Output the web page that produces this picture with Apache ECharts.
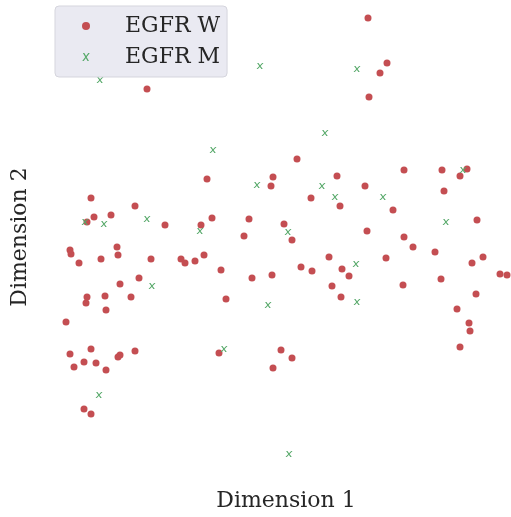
<!DOCTYPE html>
<html>
<head>
<meta charset="utf-8">
<script src="https://cdn.jsdelivr.net/npm/echarts@6/dist/echarts.min.js"></script>
<style>html,body{margin:0;padding:0;background:#fff;}#c{width:511px;height:517px;}</style>
</head>
<body>
<div id="c"></div>
<script>
// Dimension 1 / Dimension 2 coordinates
const egfrW_x = [8.6,14.6,30.7,32.6,31.9,30.8,23.6,21.2,27.6,34.3,38.1,40.6,39.9,3.0,7.4,2.6,3.3,5.0,10.4,14.0,15.1,18.8,18.3,0.9,1.0,5.6,5.7,1.8,4.0,9.0,12.0,12.4,13.4,14.3,16.0,19.1,7.8,5.9,2.6,2.5,4.4,7.0,4.5,16.5,0.5,21.0,30.4,25.0,27.9,33.2,38.3,41.6,22.3,23.1,30.6,34.3,35.2,37.4,42.2,41.1,26.8,32.5,24.0,25.1,28.1,28.8,21.1,43.9,44.6,27.1,34.2,38.0,41.5,28.0,39.6,40.8,40.9,39.9,22.0,23.1,21.2,0.9,3.0,1.3,2.3,3.5,4.5,5.7,5.9,7.4,15.8,2.3,3.0];
const egfrW_y = [38.5,29.5,45.6,41.1,40.1,37.7,31.5,29.7,29.8,30.4,30.4,30.5,29.8,27.6,26.8,25.2,25.7,25.9,24.9,24.9,25.6,25.5,23.8,22.4,22.0,22.7,21.9,21.1,21.5,21.5,21.5,21.1,21.3,21.9,20.4,19.6,19.6,19.0,17.7,17.1,17.8,17.7,16.4,17.5,15.2,28.8,28.8,27.6,26.8,26.4,28.3,25.4,25.0,23.4,24.3,23.7,22.7,22.2,21.7,21.1,21.7,21.6,20.7,20.3,20.5,19.8,19.9,20.0,19.9,18.8,18.9,19.5,18.0,17.7,16.5,15.1,14.3,12.7,12.4,11.6,10.6,12.0,12.5,10.7,11.2,11.1,10.4,11.7,11.9,12.3,12.1,6.5,6.0];
const egfrM_x = [3.9,15.2,19.9,29.6,26.4,40.2,19.6,26.1,27.4,32.2,2.4,4.3,8.6,13.9,22.7,38.5,9.1,29.5,29.6,20.7,16.3,3.8,22.8];
const egfrM_y = [39.4,32.4,40.8,40.5,34.1,30.4,28.9,28.8,27.7,27.7,25.2,25.0,25.5,24.3,24.2,25.2,18.8,21.0,17.2,16.9,12.5,7.9,2.0];
const seriesNames = ['EGFR W','EGFR M'];
const axisNames = ['Dimension 1','Dimension 2'];

const zip = (xs, ys) => xs.map((v, i) => [v, ys[i]]);
const xPath = 'path://M1.6,0L3.4,0L9.2,10L7.4,10Z M8.4,0L10.2,0L2.6,10L0.8,10Z';
const font = 'DejaVu Serif';
const textColor = '#262626';

const chart = echarts.init(document.getElementById('c'), null, {renderer: 'canvas'});
chart.setOption({
  animation: false,
  backgroundColor: '#ffffff',
  grid: {left: 61, right: 0, top: 0, bottom: 43},
  xAxis: {
    type: 'value', min: 0, max: 45,
    name: axisNames[0], nameLocation: 'middle', nameGap: 16,
    nameTextStyle: {fontFamily: font, fontSize: 22, color: textColor},
    axisLine: {show: false}, axisTick: {show: false}, axisLabel: {show: false}, splitLine: {show: false}
  },
  yAxis: {
    type: 'value', min: 0, max: 47.4,
    name: axisNames[1], nameLocation: 'middle', nameGap: 30,
    nameTextStyle: {fontFamily: font, fontSize: 22, color: textColor},
    axisLine: {show: false}, axisTick: {show: false}, axisLabel: {show: false}, splitLine: {show: false}
  },
  legend: {
    orient: 'vertical', left: 55, top: 6,
    padding: [9, 7, 9, 27],
    itemWidth: 30, itemHeight: 8, itemGap: 9,
    backgroundColor: '#EAEAF2', borderColor: '#d5d5dd', borderWidth: 1, borderRadius: 4,
    textStyle: {fontFamily: font, fontSize: 22, color: textColor, padding: [0, 0, 0, 19]},
    data: [
      {name: seriesNames[0], icon: 'circle'},
      {name: seriesNames[1], icon: xPath, itemStyle: {color: '#55A868'}}
    ]
  },
  series: [
    {
      name: seriesNames[0], type: 'scatter', symbol: 'circle', symbolSize: 7,
      itemStyle: {color: '#C44E52', opacity: 1},
      data: zip(egfrW_x, egfrW_y)
    },
    {
      name: seriesNames[1], type: 'scatter', symbol: xPath, symbolSize: [7, 6],
      itemStyle: {color: '#55A868', opacity: 1},
      data: zip(egfrM_x, egfrM_y)
    }
  ]
});
</script>
</body>
</html>
